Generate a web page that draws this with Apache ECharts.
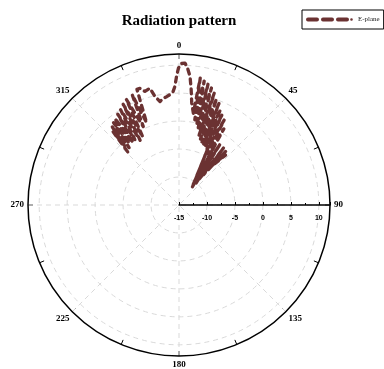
<!DOCTYPE html>
<html>
<head>
<meta charset="utf-8">
<script src="https://cdn.jsdelivr.net/npm/echarts@6/dist/echarts.min.js"></script>
<style>
  html, body { margin: 0; padding: 0; background: #fff; }
  #chart { width: 384px; height: 369px; }
</style>
</head>
<body>
<div id="chart"></div>
<script>
const lineColor = '#6b3232';
const gridColor = '#d9d9d9';
const serif = '"Liberation Serif", "Times New Roman", serif';
const sans = '"Liberation Sans", Arial, sans-serif';

// measured angle (deg, 0 = top, clockwise) and gain (dB)
const ePlaneAngle = [
  316, 318, 317.5, 319.5, 319, 321.5, 321, 323.5, 323.5, 326,
  326, 328.5, 329, 331, 332, 333.5, 335.5, 337, 338.5, 340,
  341.5, 343.3, 346, 347.5, 349.6, 351.6, 353.5, 355.3, 357, 358,
  359, 359.8, 1, 2.4, 3.5, 4.9, 6, 7.1, 8.9,
  9.5, 10.5, 11.5, 12.5, 13.5, 14, 15.5, 16, 17.5, 18,
  19.5, 20, 21.5, 22, 23.5, 24, 25.5, 26.5, 28, 29,
  30.5, 35, 27, 37, 31, 36, 34, 38, 38, 39, 41, 40, 43, 41
];
const ePlaneGain = [
  -1.8, 2.6, -0.6, 3.4, -1.4, 3.8, -0.9, 4.3, -1.2, 4.6,
  -0.9, 5.0, -1.5, 5.6, -1.2, 6.1, 0.4, 6.4, 0.8, 7.0,
  7.0, 6.2, 6.5, 4.9, 3.8, 4.3, 4.5, 4.8, 5.3, 6.2,
  8.2, 9.5, 10.3, 10.4, 9.6, 8.1, 5.8, 3.4, 1.6,
  8.0, 0.5, 7.6, -0.5, 7.2, -1.2, 6.7, -2.0, 6.0, -2.6,
  5.2, -3.0, 4.5, -3.4, 3.6, -3.6, 2.8, -3.8, 2.2, -4.5,
  0.8, -10.5, -3.5, -11.2, -2.6, -9.5, -1.8, -10, -2.0, -8, -2.3, -6, -2.8, -4.5
];

// angle axis runs from the right side (so the radius axis lies along 90)
const angleLabels = ['90', '135', '180', '225', '270', '315', '0', '45'];

const chart = echarts.init(document.getElementById('chart'));

// polar line data is [radius, angle]
const data = ePlaneAngle.map(function (a, i) {
  return [ePlaneGain[i], (a + 270) % 360];
});

const option = {
  animation: false,
  title: {
    text: 'Radiation pattern',
    left: 174,
    top: 9,
    textAlign: 'center',
    textStyle: {
      fontFamily: serif,
      fontWeight: 'bold',
      fontSize: 15,
      color: '#000'
    }
  },
  legend: {
    left: 302,
    top: 10,
    padding: [6, 4],
    borderColor: '#000',
    borderWidth: 1,
    borderRadius: 0,
    itemWidth: 47,
    itemHeight: 4,
    icon: 'path://M2,0H11A2,2 0 0 1 11,4H2A2,2 0 0 1 2,0Z M17,0H26A2,2 0 0 1 26,4H17A2,2 0 0 1 17,0Z M32,0H41A2,2 0 0 1 41,4H32A2,2 0 0 1 32,0Z M45.5,0.7A1.3,1.3 0 1 1 45.5,3.3A1.3,1.3 0 1 1 45.5,0.7Z',
    textStyle: {
      fontFamily: serif,
      fontSize: 7,
      color: '#222'
    },
    data: ['E-plane']
  },
  polar: {
    center: [179, 205],
    radius: 151
  },
  angleAxis: {
    type: 'value',
    min: 0,
    max: 360,
    interval: 45,
    startAngle: 0,
    clockwise: true,
    z: 2,
    axisLine: { lineStyle: { color: '#000', width: 1.5 } },
    axisTick: { show: true, inside: true, length: 5, lineStyle: { color: '#000' } },
    minorTick: { show: true, splitNumber: 2, length: 5, lineStyle: { color: '#000' } },
    axisLabel: {
      margin: 4,
      fontFamily: serif,
      fontWeight: 'bold',
      fontSize: 9,
      color: '#000',
      formatter: function (v) { return angleLabels[Math.round(v / 45) % 8]; }
    },
    splitLine: { lineStyle: { color: gridColor, type: [5, 4], width: 1 } }
  },
  radiusAxis: {
    type: 'value',
    min: -15,
    max: 12,
    interval: 5,
    z: 3,
    axisLine: { lineStyle: { color: '#000', width: 1.5 } },
    axisTick: { show: true, length: 3, lineStyle: { color: '#000' } },
    minorTick: { show: true, splitNumber: 2, length: 2, lineStyle: { color: '#000' } },
    axisLabel: {
      showMaxLabel: false,
      margin: -17,
      fontFamily: sans,
      fontWeight: 'bold',
      fontSize: 7,
      color: '#000'
    },
    splitLine: {
      lineStyle: {
        // last circle sits on the outer ring, keep it hidden
        color: [gridColor, gridColor, gridColor, gridColor, gridColor, gridColor, 'rgba(0,0,0,0)'],
        type: [5, 4],
        width: 1
      }
    }
  },
  series: [
    {
      name: 'E-plane',
      type: 'line',
      coordinateSystem: 'polar',
      showSymbol: false,
      z: 5,
      color: lineColor,
      lineStyle: { color: lineColor, width: 3.3, type: [5, 5], cap: 'round', join: 'round' },
      data: data
    }
  ]
};

chart.setOption(option);
</script>
</body>
</html>
